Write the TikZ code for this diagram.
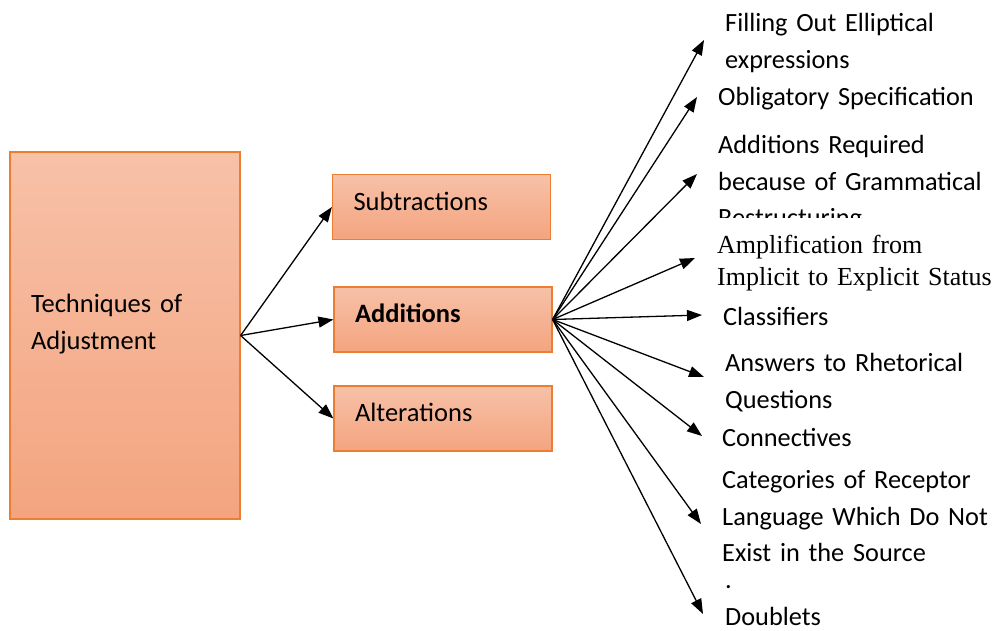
\documentclass[tikz,border=0pt]{standalone}
\usepackage{fontspec}
\setmainfont{Carlito}[WordSpace=0.7]
\newfontfamily\timesfont{Liberation Serif}[WordSpace=0.8]
\usepackage{tikz}
\usetikzlibrary{arrows.meta}

\definecolor{boxedge}{HTML}{ED7D31}
\definecolor{boxtop}{HTML}{F7C1A8}
\definecolor{boxbottom}{HTML}{F4A47F}

\begin{document}
\begin{tikzpicture}[x=1pt, y=-1pt,
        box/.style={draw=boxedge, line width=1.2pt, top color=boxtop, bottom color=boxbottom,
            align=left, font=\fontsize{26.5}{37}\selectfont},
        smallbox/.style={box, minimum width=218pt, minimum height=65pt, inner xsep=21pt,
            text width=176pt, text height=14pt, text depth=8pt},
        item/.style={anchor=base west, inner sep=0pt, align=left, text width=280pt,
            font=\fontsize{26.3}{36.7}\selectfont},
        arr/.style={-{Triangle[length=15pt, width=11pt]}, line width=1.3pt}]
        \useasboundingbox (0, 0) rectangle (993, 630);

        \node [box, minimum width=230pt, minimum height=367pt, inner xsep=21pt,
            text width=188pt, text height=18pt, text depth=65pt] (tech) at (125, 335.5)
            {Techniques of\\Adjustment};
        \node [smallbox] (sub) at (441.5, 207) {Subtractions};
        \node [smallbox] (add) at (443, 319.5) {\textbf{Additions}};
        \node [smallbox] (alt) at (443, 418.5) {Alterations};

        \draw [arr] (tech.east) -- (sub.west);
        \draw [arr] (tech.east) -- (add.west);
        \draw [arr] (tech.east) -- (alt.west);

        \node [item] (fill) at (725, 31.7) {Filling Out Elliptical\\expressions};
        \node [item] (oblig) at (718, 105) {Obligatory Specification};
        \begin{scope}
            \clip (700, 120) rectangle (993, 217.3);
            \node [item] (gram) at (718, 153.3) {Additions Required\\because of Grammatical\\Restructuring};
        \end{scope}
        \node [item, font=\timesfont\fontsize{26}{31.7}\selectfont] (ampl) at (717, 253.3)
            {Amplification from\\Implicit to Explicit Status};
        \node [item] (class) at (723, 325) {Classifiers};
        \node [item] (answ) at (725, 371.7) {Answers to Rhetorical\\Questions};
        \node [item] (conn) at (722, 446) {Connectives};
        \node [item] (categ) at (722, 488.3)
            {Categories of Receptor\\Language Which Do Not\\Exist in the Source\\[-10pt]\hspace{3pt}.};
        \node [item] (doub) at (725, 625) {Doublets};

        \coordinate (fillTip) at (704, 40);
        \coordinate (obligTip) at (697, 97);
        \coordinate (gramTip) at (697, 174);
        \coordinate (amplTip) at (695, 258);
        \coordinate (classTip) at (702, 315);
        \coordinate (answTip) at (704, 377);
        \coordinate (connTip) at (702, 436);
        \coordinate (categTip) at (701, 524);
        \coordinate (doubTip) at (703, 614);

        \draw [arr] (add.east) -- (fillTip);
        \draw [arr] (add.east) -- (obligTip);
        \draw [arr] (add.east) -- (gramTip);
        \draw [arr] (add.east) -- (amplTip);
        \draw [arr] (add.east) -- (classTip);
        \draw [arr] (add.east) -- (answTip);
        \draw [arr] (add.east) -- (connTip);
        \draw [arr] (add.east) -- (categTip);
        \draw [arr] (add.east) -- (doubTip);
    \end{tikzpicture}
\end{document}
